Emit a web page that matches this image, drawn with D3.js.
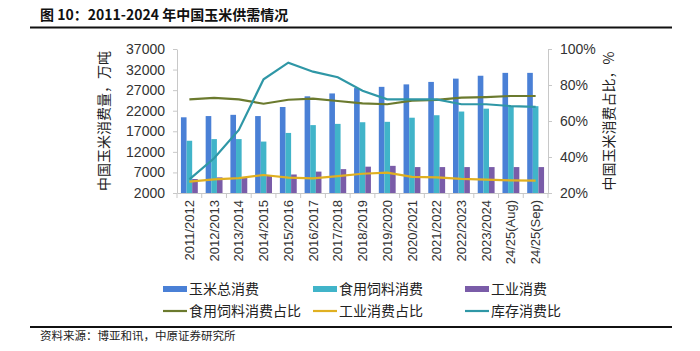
<!DOCTYPE html>
<html>
<head>
<meta charset="utf-8">
<script src="https://cdn.jsdelivr.net/npm/d3@7"></script>
<style>
  body { margin: 0; background: #fff; }
  svg { font-family: "Noto Sans CJK SC", "Noto Sans", sans-serif; }
  .axis path, .axis line { stroke: #c8c8c8; }
  .axis text { fill: #333; font-size: 14px; }
  .xaxis text { font-size: 13px; }
</style>
</head>
<body>
<div id="chart"></div>
<script>
var categories = ["2011/2012", "2012/2013", "2013/2014", "2014/2015", "2015/2016", "2016/2017",
  "2017/2018", "2018/2019", "2019/2020", "2020/2021", "2021/2022", "2022/2023", "2023/2024",
  "24/25(Aug)", "24/25(Sep)"];
var totalUse = [20400, 20700, 21000, 20700, 22900, 25500, 26200, 27500, 27800, 28400, 29000, 29800, 30500, 31200, 31200];
var feedUse = [14700, 15100, 15100, 14500, 16600, 18500, 18800, 19200, 19300, 20300, 20900, 21800, 22500, 23100, 23100];
var industUse = [5400, 5800, 5800, 6300, 6500, 7200, 7800, 8400, 8600, 8300, 8300, 8300, 8300, 8300, 8300];
var feedShare = [72.0, 72.8, 72.0, 69.6, 71.8, 72.4, 71.1, 69.8, 69.3, 71.3, 71.7, 73.0, 73.3, 73.9, 73.9];
var industShare = [26.3, 27.6, 28.3, 30.0, 28.5, 28.1, 29.4, 30.7, 31.3, 29.0, 28.7, 27.8, 27.4, 27.0, 26.9];
var stockRatio = [27.6, 39.3, 55.0, 83.2, 92.4, 87.4, 84.3, 76.8, 72.0, 72.0, 72.0, 69.3, 69.3, 68.3, 67.8];
var leftTicks = [2000, 7000, 12000, 17000, 22000, 27000, 32000, 37000];
var rightTicks = [20, 40, 60, 80, 100];

var width = 700, height = 351;
var margin = { top: 49, right: 152, bottom: 158, left: 177 };
var w = width - margin.left - margin.right,
  h = height - margin.top - margin.bottom;

var svg = d3.select("#chart").append("svg")
  .attr("width", width)
  .attr("height", height);

// title and rules
svg.append("text")
  .attr("x", 40).attr("y", 20)
  .style("font-size", "14px").style("font-weight", "bold").style("fill", "#111")
  .text("图 10：2011-2024 年中国玉米供需情况");
svg.append("line").attr("x1", 30).attr("x2", 672).attr("y1", 27.5).attr("y2", 27.5)
  .style("stroke", "#111").style("stroke-width", 2);
svg.append("line").attr("x1", 30).attr("x2", 672).attr("y1", 327).attr("y2", 327)
  .style("stroke", "#111").style("stroke-width", 2);
svg.append("text")
  .attr("x", 40).attr("y", 340)
  .style("font-size", "11.5px").style("fill", "#222")
  .text("资料来源：博亚和讯，中原证券研究所");

var g = svg.append("g")
  .attr("transform", "translate(" + margin.left + "," + margin.top + ")");

var x = d3.scaleBand().domain(categories).range([0, w]);
var xSub = d3.scaleBand().domain(["total", "feed", "indust"])
  .range([0, x.bandwidth()]).paddingInner(0).paddingOuter(0.7);
var y0 = d3.scaleLinear().domain([2000, 37000]).range([h, 0]);
var y1 = d3.scaleLinear().domain([20, 100]).range([h, 0]);

var barSeries = [
  { key: "total", name: "玉米总消费", values: totalUse, color: "#4a80d6" },
  { key: "feed", name: "食用饲料消费", values: feedUse, color: "#41b4c9" },
  { key: "indust", name: "工业消费", values: industUse, color: "#7a5ca8" }
];
var lineSeries = [
  { name: "食用饲料消费占比", values: feedShare, color: "#6b7a2e" },
  { name: "工业消费占比", values: industShare, color: "#e0b021" },
  { name: "库存消费比", values: stockRatio, color: "#2f97a6" }
];

// bars
barSeries.forEach(function (s) {
  g.selectAll(".bar-" + s.key)
    .data(s.values)
    .enter().append("rect")
    .attr("x", function (d, i) { return x(categories[i]) + xSub(s.key); })
    .attr("width", xSub.bandwidth())
    .attr("y", function (d) { return y0(d); })
    .attr("height", function (d) { return h - y0(d); })
    .style("fill", s.color);
});

// axes
var xAxis = g.append("g")
  .attr("class", "axis xaxis")
  .attr("transform", "translate(0," + h + ")")
  .call(d3.axisBottom(x).tickSize(0).tickSizeOuter(0));
xAxis.selectAll("text")
  .attr("transform", "rotate(-90)")
  .attr("x", -7).attr("y", 0).attr("dy", "0.35em")
  .style("text-anchor", "end");
// separator ticks between categories
xAxis.selectAll(".sep")
  .data(d3.range(categories.length + 1))
  .enter().append("line")
  .attr("x1", function (i) { return i * x.step(); })
  .attr("x2", function (i) { return i * x.step(); })
  .attr("y1", 0).attr("y2", 5)
  .style("stroke", "#c8c8c8");

g.append("g")
  .attr("class", "axis")
  .call(d3.axisLeft(y0).tickValues(leftTicks).tickSize(4).tickSizeOuter(0).tickPadding(8)
    .tickFormat(d3.format("d")));

g.append("g")
  .attr("class", "axis")
  .attr("transform", "translate(" + w + ",0)")
  .call(d3.axisRight(y1).tickValues(rightTicks).tickSize(4).tickSizeOuter(0).tickPadding(8)
    .tickFormat(function (d) { return d + "%"; }));

// lines
var line = d3.line()
  .x(function (d, i) { return x(categories[i]) + x.bandwidth() / 2; })
  .y(function (d) { return y1(d); });
lineSeries.forEach(function (s) {
  g.append("path")
    .datum(s.values)
    .attr("d", line)
    .style("fill", "none")
    .style("stroke", s.color)
    .style("stroke-width", 2.2);
});

// axis titles
svg.append("text")
  .attr("transform", "translate(104," + (margin.top + h / 2) + ") rotate(-90)")
  .style("text-anchor", "middle").style("font-size", "14px").style("fill", "#222")
  .attr("dy", "0.35em")
  .text("中国玉米消费量，万吨");
svg.append("text")
  .attr("transform", "translate(609," + (margin.top + h / 2) + ") rotate(-90)")
  .style("text-anchor", "middle").style("font-size", "14px").style("fill", "#222")
  .attr("dy", "0.35em")
  .text("中国玉米消费占比，%");

// legend
var legendX = [163, 313, 465];
var legend = svg.append("g").style("font-size", "14px");
barSeries.forEach(function (s, i) {
  legend.append("rect")
    .attr("x", legendX[i]).attr("y", 286).attr("width", 24).attr("height", 6)
    .style("fill", s.color);
  legend.append("text")
    .attr("x", legendX[i] + 26).attr("y", 289).attr("dy", "0.35em")
    .style("fill", "#222").text(s.name);
});
lineSeries.forEach(function (s, i) {
  legend.append("line")
    .attr("x1", legendX[i]).attr("x2", legendX[i] + 24)
    .attr("y1", 311).attr("y2", 311)
    .style("stroke", s.color).style("stroke-width", 2.2);
  legend.append("text")
    .attr("x", legendX[i] + 26).attr("y", 311).attr("dy", "0.35em")
    .style("fill", "#222").text(s.name);
});
</script>
</body>
</html>
